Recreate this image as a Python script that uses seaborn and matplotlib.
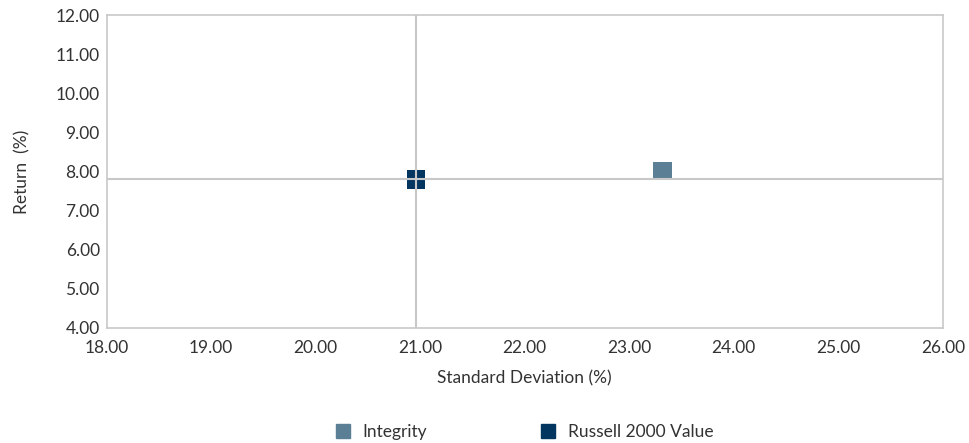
import seaborn as sns
import matplotlib.pyplot as plt
import pandas as pd
from matplotlib.lines import Line2D

NAMES = ["Integrity", "Russell 2000 Value"]
STD_DEV = [23.32, 20.96]
RETURNS = [8.01, 7.80]
COLORS = ["#5b7f95", "#033561"]

# benchmark crosshair
BENCH_X = 20.96
BENCH_Y = 7.80

sns.set_style("white")
plt.rcParams["font.family"] = ["Lato", "DejaVu Sans"]

df = pd.DataFrame({"name": NAMES, "std": STD_DEV, "ret": RETURNS})

fig = plt.figure(figsize=(9.7, 4.43), dpi=100)
ax = fig.add_axes([0.110, 0.260, 0.862, 0.706])

sns.scatterplot(
    data=df,
    x="std",
    y="ret",
    hue="name",
    palette=dict(zip(NAMES, COLORS)),
    marker="s",
    s=180,
    edgecolor="none",
    ax=ax,
    legend=False,
    zorder=2,
)

ax.axvline(BENCH_X, color="#c8c8c8", lw=1.5, zorder=3)
ax.axhline(BENCH_Y, color="#c8c8c8", lw=1.5, zorder=3)

ax.set_xlim(18, 26)
ax.set_ylim(4, 12)
ax.set_xticks(range(18, 27))
ax.set_yticks(range(4, 13))
ax.set_xticklabels([f"{v:.2f}" for v in range(18, 27)])
ax.set_yticklabels([f"{v:.2f}" for v in range(4, 13)])
ax.tick_params(labelsize=12.5, colors="#333333", length=0)
ax.tick_params(axis="x", pad=9)
ax.tick_params(axis="y", pad=5)

for sp in ax.spines.values():
    sp.set_color("#c8c8c8")
    sp.set_linewidth(1.2)

ax.set_xlabel("Standard Deviation (%)", fontsize=12.5, color="#333333", labelpad=10)
ax.set_ylabel("Return  (%)", fontsize=12.5, color="#333333", labelpad=18)

handles = [
    Line2D([0], [0], marker="s", linestyle="", color=c, markersize=10, label=n)
    for n, c in zip(NAMES, COLORS)
]
fig.legend(
    handles=handles,
    loc="center",
    bbox_to_anchor=(0.54, 0.025),
    ncol=2,
    frameon=False,
    fontsize=12.5,
    columnspacing=6.5,
    handlelength=1.0,
    handletextpad=0.6,
    labelcolor="#333333",
)

fig.savefig("out.png", dpi=100)
